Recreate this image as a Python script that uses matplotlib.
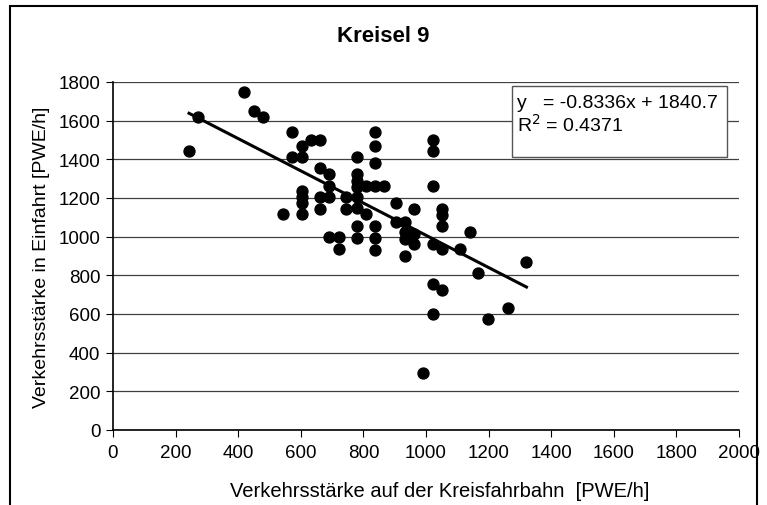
import matplotlib.pyplot as plt
import numpy as np
from matplotlib.patches import Rectangle

plt.rcParams["font.family"] = ["Liberation Sans", "DejaVu Sans"]

kreis_q = [243, 273, 418, 450, 480, 573, 573, 543, 603, 603, 603, 603, 603,
           603, 633, 662, 662, 662, 662, 691, 691, 691, 691, 721, 721, 746,
           746, 778, 778, 778, 778, 778, 778, 778, 778, 808, 808, 837, 837,
           837, 837, 837, 837, 837, 867, 903, 904, 933, 933, 933, 933, 962,
           962, 962, 991, 1021, 1021, 1021, 1021, 1021, 1021, 1050, 1050,
           1050, 1050, 1050, 1109, 1139, 1167, 1197, 1263, 1321]
einfahrt_q = [1443, 1620, 1747, 1650, 1620, 1540, 1410, 1117, 1470, 1410,
              1235, 1205, 1175, 1117, 1500, 1500, 1355, 1205, 1143, 1325,
              1263, 1205, 997, 997, 936, 1205, 1143, 1411, 1324, 1286, 1255,
              1204, 1147, 1057, 992, 1260, 1117, 1540, 1471, 1381, 1260, 1057,
              992, 932, 1260, 1172, 1074, 1074, 1022, 988, 898, 1143, 1014,
              962, 295, 1500, 1441, 1260, 962, 755, 600, 1143, 1114, 1053,
              936, 724, 936, 1022, 811, 574, 629, 867]

# Trendlinie
slope = -0.8336
intercept = 1840.7
r2 = 0.4371

fig = plt.figure(figsize=(7.67, 5.06), dpi=100)
ax = fig.add_axes([113 / 767, 75 / 506, 626 / 767, 348 / 506])

x = np.array(kreis_q)
y = np.array(einfahrt_q)
ax.scatter(x, y, s=62, color="black", zorder=3)
xl = np.array([x.min(), x.max()])
ax.plot(xl, slope * xl + intercept, color="black", lw=2.2, zorder=4)

ax.set_xlim(0, 2000)
ax.set_ylim(0, 1800)
ax.set_xticks(np.arange(0, 2001, 200))
ax.set_yticks(np.arange(0, 1801, 200))
ax.yaxis.grid(True, color="#404040", lw=0.9)
ax.set_axisbelow(True)
for s in ["top", "right"]:
    ax.spines[s].set_visible(False)
ax.spines["left"].set_linewidth(1.2)
ax.spines["bottom"].set_linewidth(1.2)
ax.tick_params(axis="both", labelsize=13.5, length=5, direction="out")
ax.tick_params(axis="x", pad=5)
ax.tick_params(axis="y", pad=4)

ax.set_xlabel("Verkehrsstärke auf der Kreisfahrbahn  [PWE/h]", fontsize=14.5)
ax.xaxis.set_label_coords(0.522, -0.147)
ax.set_ylabel("Verkehrsstärke in Einfahrt [PWE/h]", fontsize=14, labelpad=6)
fig.text(0.5, 1 - 37 / 506, "Kreisel 9", fontsize=16,
         fontweight="bold", ha="center", va="center")

# Textfeld der Trendlinie
ax.add_patch(Rectangle((0.637, 0.784), 0.344, 0.205, transform=ax.transAxes,
                       fc="white", ec="#555555", lw=1, zorder=5))
ax.text(0.645, 0.94, "y   = %.4fx + %.1f" % (slope, intercept),
        transform=ax.transAxes, ha="left", va="center", fontsize=14, zorder=6)
ax.text(0.645, 0.88, "R$^2$ = %.4f" % r2,
        transform=ax.transAxes, ha="left", va="center", fontsize=14, zorder=6)

fig.patches.append(Rectangle((10 / 767, -0.1), 747 / 767, 1.1 - 7 / 506,
                             transform=fig.transFigure, fill=False,
                             ec="black", lw=1.5))

fig.savefig("out.png", dpi=100)
